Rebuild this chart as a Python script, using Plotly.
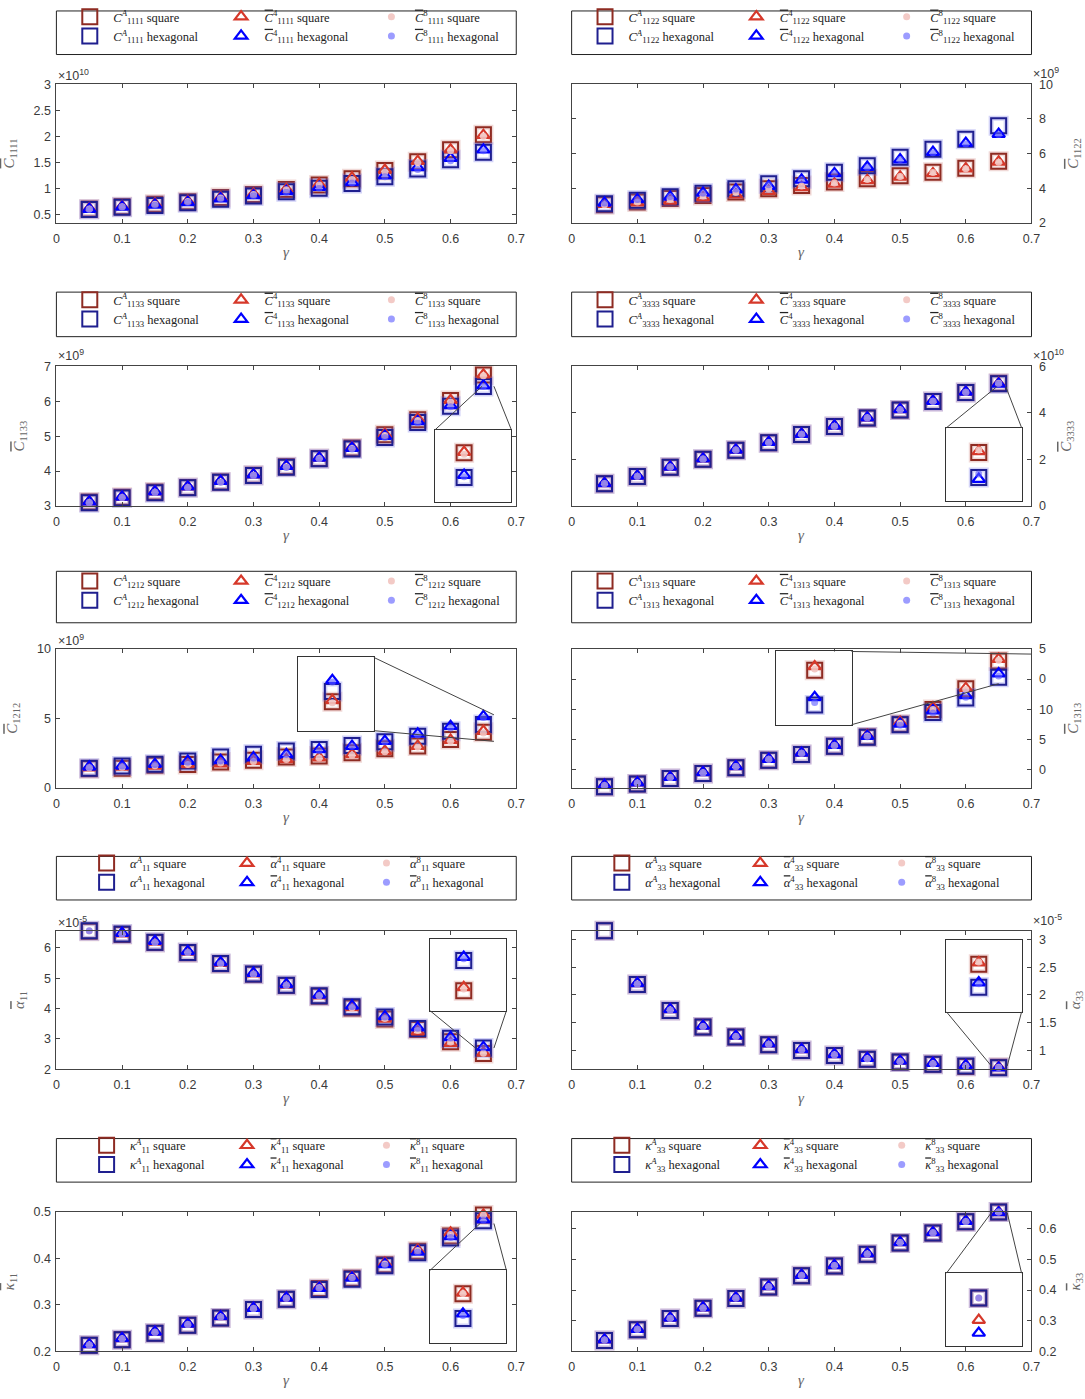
import plotly.graph_objects as go

W, H = 1085, 1399

# ---------------- data ----------------
gamma = [0.05, 0.10, 0.15, 0.20, 0.25, 0.30, 0.35, 0.40, 0.45, 0.50, 0.55, 0.60, 0.65]
x_tickvals = [0, 0.1, 0.2, 0.3, 0.4, 0.5, 0.6, 0.7]
x_ticktext = ["0", "0.1", "0.2", "0.3", "0.4", "0.5", "0.6", "0.7"]

# C1111 (x1e10)
c1111_A_sq = [0.60, 0.645, 0.69, 0.74, 0.82, 0.88, 0.975, 1.06, 1.18, 1.34, 1.51, 1.74, 2.03]
c1111_A_hex = [0.59, 0.635, 0.67, 0.72, 0.79, 0.85, 0.93, 1.00, 1.09, 1.22, 1.37, 1.55, 1.69]
c1111_4_sq = [0.61, 0.65, 0.70, 0.75, 0.82, 0.89, 0.98, 1.08, 1.20, 1.35, 1.52, 1.74, 2.02]
c1111_4_hex = [0.60, 0.64, 0.68, 0.73, 0.80, 0.86, 0.94, 1.02, 1.11, 1.24, 1.40, 1.58, 1.74]
c1111_8_sq = [0.60, 0.645, 0.69, 0.745, 0.81, 0.88, 0.97, 1.06, 1.17, 1.31, 1.49, 1.72, 2.00]
c1111_8_hex = [0.59, 0.635, 0.675, 0.725, 0.795, 0.855, 0.925, 1.00, 1.10, 1.22, 1.36, 1.53, 1.72]
c1111_ticks = [0.5, 1, 1.5, 2, 2.5, 3]
c1111_ticktext = ["0.5", "1", "1.5", "2", "2.5", "3"]

# C1122 (x1e9)
c1122_A_sq = [3.05, 3.20, 3.40, 3.58, 3.78, 3.97, 4.15, 4.35, 4.55, 4.72, 4.92, 5.15, 5.55]
c1122_A_hex = [3.10, 3.30, 3.50, 3.70, 3.97, 4.25, 4.55, 4.92, 5.30, 5.78, 6.25, 6.82, 7.60]
c1122_4_sq = [3.08, 3.17, 3.27, 3.45, 3.62, 3.83, 4.05, 4.25, 4.45, 4.65, 4.85, 5.13, 5.52]
c1122_4_hex = [3.15, 3.35, 3.50, 3.72, 3.92, 4.12, 4.48, 4.85, 5.22, 5.65, 6.08, 6.60, 7.12]
c1122_8_sq = [3.05, 3.20, 3.35, 3.55, 3.75, 3.95, 4.12, 4.30, 4.50, 4.68, 4.90, 5.12, 5.50]
c1122_8_hex = [3.15, 3.35, 3.52, 3.72, 3.95, 4.20, 4.50, 4.85, 5.20, 5.65, 6.05, 6.55, 7.10]
c1122_ticks = [2, 4, 6, 8, 10]
c1122_ticktext = ["2", "4", "6", "8", "10"]

# C1133 (x1e9)
c1133_A_sq = [3.11, 3.25, 3.40, 3.53, 3.69, 3.88, 4.12, 4.36, 4.66, 5.04, 5.47, 6.02, 6.75]
c1133_A_hex = [3.09, 3.23, 3.38, 3.52, 3.68, 3.87, 4.11, 4.35, 4.63, 4.96, 5.39, 5.86, 6.42]
c1133_4_sq = [3.12, 3.26, 3.41, 3.55, 3.71, 3.90, 4.14, 4.38, 4.68, 5.06, 5.50, 6.03, 6.76]
c1133_4_hex = [3.12, 3.26, 3.41, 3.55, 3.71, 3.90, 4.14, 4.38, 4.66, 5.00, 5.42, 5.88, 6.45]
c1133_8_sq = [3.10, 3.24, 3.39, 3.53, 3.69, 3.88, 4.12, 4.36, 4.65, 5.02, 5.45, 5.98, 6.73]
c1133_8_hex = [3.10, 3.24, 3.39, 3.53, 3.68, 3.87, 4.10, 4.35, 4.63, 4.96, 5.38, 5.84, 6.43]
c1133_ticks = [3, 4, 5, 6, 7]
c1133_ticktext = ["3", "4", "5", "6", "7"]

# C3333 (x1e10)
c3333_A_sq = [0.95, 1.27, 1.66, 2.01, 2.39, 2.72, 3.07, 3.42, 3.78, 4.13, 4.49, 4.88, 5.270]
c3333_A_hex = [0.95, 1.27, 1.66, 2.01, 2.39, 2.72, 3.07, 3.42, 3.78, 4.13, 4.49, 4.88, 5.250]
c3333_4_sq = [0.97, 1.29, 1.68, 2.03, 2.41, 2.74, 3.09, 3.44, 3.80, 4.15, 4.51, 4.90, 5.271]
c3333_4_hex = [0.97, 1.29, 1.68, 2.03, 2.41, 2.74, 3.09, 3.44, 3.80, 4.15, 4.51, 4.90, 5.2487]
c3333_8_sq = [0.96, 1.28, 1.67, 2.02, 2.40, 2.73, 3.08, 3.43, 3.79, 4.14, 4.50, 4.89, 5.272]
c3333_8_hex = [0.96, 1.28, 1.67, 2.02, 2.40, 2.73, 3.08, 3.43, 3.79, 4.14, 4.50, 4.89, 5.2527]
c3333_ticks = [0, 2, 4, 6]
c3333_ticktext = ["0", "2", "4", "6"]

# C1212 (x1e9)
c1212_A_sq = [1.38, 1.42, 1.64, 1.70, 1.87, 1.99, 2.23, 2.30, 2.54, 2.82, 3.01, 3.48, 4.00]
c1212_A_hex = [1.42, 1.59, 1.71, 1.94, 2.23, 2.42, 2.65, 2.77, 3.06, 3.32, 3.72, 4.08, 4.55]
c1212_4_sq = [1.47, 1.52, 1.59, 1.70, 1.75, 1.94, 2.06, 2.18, 2.42, 2.65, 3.01, 3.44, 4.08]
c1212_4_hex = [1.52, 1.59, 1.71, 1.94, 1.99, 2.18, 2.42, 2.77, 3.01, 3.37, 3.89, 4.43, 5.14]
c1212_8_sq = [1.45, 1.50, 1.60, 1.70, 1.80, 1.90, 2.05, 2.15, 2.35, 2.60, 2.95, 3.35, 3.95]
c1212_8_hex = [1.50, 1.58, 1.70, 1.85, 1.95, 2.15, 2.40, 2.70, 3.00, 3.30, 3.80, 4.30, 5.05]
c1212_ticks = [0, 5, 10]
c1212_ticktext = ["0", "5", "10"]

# C1313
c1313_A_sq = [-2.77, -2.34, -1.41, -0.60, 0.38, 1.58, 2.55, 3.91, 5.45, 7.55, 10.0, 13.4, 18.0]
c1313_A_hex = [-2.77, -2.34, -1.41, -0.60, 0.38, 1.58, 2.55, 3.91, 5.38, 7.45, 9.5, 11.9, 15.3]
c1313_4_sq = [-2.50, -2.10, -1.20, -0.40, 0.60, 1.80, 2.80, 4.10, 5.70, 7.90, 10.3, 13.5, 18.3]
c1313_4_hex = [-2.50, -2.10, -1.20, -0.40, 0.60, 1.80, 2.80, 4.10, 5.60, 7.60, 9.8, 12.3, 15.9]
c1313_8_sq = [-2.55, -2.15, -1.25, -0.45, 0.55, 1.75, 2.75, 4.05, 5.60, 7.70, 10.0, 13.3, 18.1]
c1313_8_hex = [-2.55, -2.15, -1.25, -0.45, 0.55, 1.75, 2.75, 4.05, 5.50, 7.40, 9.4, 12.0, 15.5]
c1313_ticks = [0, 5, 10, 15, 20]
c1313_ticktext = ["0", "5", "10", "0", "5"]

# alpha11 (x1e-5)
a11_A_sq = [6.55, 6.44, 6.18, 5.84, 5.48, 5.13, 4.76, 4.41, 4.02, 3.66, 3.31, 2.91, 2.52]
a11_A_hex = [6.57, 6.46, 6.19, 5.85, 5.49, 5.14, 4.77, 4.42, 4.06, 3.72, 3.34, 3.02, 2.70]
a11_4_sq = [6.58, 6.47, 6.20, 5.87, 5.50, 5.15, 4.78, 4.43, 4.04, 3.66, 3.24, 2.86, 2.54]
a11_4_hex = [6.60, 6.49, 6.22, 5.89, 5.52, 5.17, 4.80, 4.45, 4.09, 3.74, 3.37, 3.05, 2.72]
a11_8_sq = [6.56, 6.45, 6.18, 5.85, 5.48, 5.13, 4.77, 4.42, 4.03, 3.67, 3.28, 2.90, 2.53]
a11_8_hex = [6.57, 6.46, 6.19, 5.86, 5.50, 5.15, 4.78, 4.43, 4.07, 3.72, 3.35, 3.03, 2.71]
a11_ticks = [2, 3, 4, 5, 6]
a11_ticktext = ["2", "3", "4", "5", "6"]

# alpha33 (x1e-5)
a33_A_sq = [3.16, 2.19, 1.72, 1.42, 1.24, 1.10, 1.00, 0.91, 0.84, 0.79, 0.75, 0.71, 0.695]
a33_A_hex = [3.16, 2.19, 1.72, 1.42, 1.24, 1.10, 1.00, 0.91, 0.84, 0.79, 0.75, 0.72, 0.685]
a33_4_sq = [3.18, 2.21, 1.74, 1.44, 1.26, 1.12, 1.02, 0.93, 0.86, 0.81, 0.77, 0.73, 0.6957]
a33_4_hex = [3.18, 2.21, 1.74, 1.44, 1.26, 1.12, 1.02, 0.93, 0.86, 0.81, 0.77, 0.73, 0.6870]
a33_8_sq = [3.17, 2.20, 1.73, 1.43, 1.25, 1.11, 1.01, 0.92, 0.85, 0.80, 0.76, 0.72, 0.6960]
a33_8_hex = [3.17, 2.20, 1.73, 1.43, 1.25, 1.11, 1.01, 0.92, 0.85, 0.80, 0.76, 0.72, 0.6865]
a33_ticks = [1, 1.5, 2, 2.5, 3]
a33_ticktext = ["1", "1.5", "2", "2.5", "3"]

# kappa11
k11_A_sq = [0.213, 0.225, 0.239, 0.256, 0.272, 0.290, 0.312, 0.335, 0.357, 0.386, 0.415, 0.448, 0.493]
k11_A_hex = [0.213, 0.225, 0.239, 0.256, 0.272, 0.290, 0.312, 0.333, 0.355, 0.384, 0.412, 0.444, 0.481]
k11_4_sq = [0.215, 0.228, 0.242, 0.259, 0.275, 0.293, 0.315, 0.338, 0.360, 0.390, 0.418, 0.455, 0.4935]
k11_4_hex = [0.215, 0.228, 0.242, 0.259, 0.275, 0.293, 0.315, 0.336, 0.358, 0.387, 0.414, 0.447, 0.4833]
k11_8_sq = [0.214, 0.227, 0.241, 0.258, 0.274, 0.292, 0.314, 0.337, 0.359, 0.388, 0.417, 0.451, 0.4932]
k11_8_hex = [0.214, 0.227, 0.241, 0.258, 0.274, 0.292, 0.314, 0.335, 0.357, 0.385, 0.413, 0.445, 0.4825]
k11_ticks = [0.2, 0.3, 0.4, 0.5]
k11_ticktext = ["0.2", "0.3", "0.4", "0.5"]

# kappa33
k33_A_sq = [0.236, 0.271, 0.307, 0.341, 0.373, 0.410, 0.447, 0.479, 0.517, 0.554, 0.586, 0.623, 0.6552]
k33_A_hex = [0.236, 0.271, 0.307, 0.341, 0.373, 0.410, 0.447, 0.479, 0.517, 0.554, 0.586, 0.623, 0.6552]
k33_4_sq = [0.238, 0.273, 0.309, 0.343, 0.375, 0.412, 0.449, 0.481, 0.519, 0.556, 0.588, 0.625, 0.6540]
k33_4_hex = [0.238, 0.273, 0.309, 0.343, 0.375, 0.412, 0.449, 0.481, 0.519, 0.556, 0.588, 0.625, 0.6533]
k33_8_sq = [0.237, 0.272, 0.308, 0.342, 0.374, 0.411, 0.448, 0.480, 0.518, 0.555, 0.587, 0.624, 0.6552]
k33_8_hex = [0.237, 0.272, 0.308, 0.342, 0.374, 0.411, 0.448, 0.480, 0.518, 0.555, 0.587, 0.624, 0.6552]
k33_ticks = [0.2, 0.3, 0.4, 0.5, 0.6]
k33_ticktext = ["0.2", "0.3", "0.4", "0.5", "0.6"]

# ---------------- style ----------------
BROWN = "#8e2b22"
NAVY = "#1f1f8f"
RED = "#d6382a"
BLUE = "#0000ff"
PINK = "rgba(242,196,192,0.9)"
LBLUE = "rgba(90,90,255,0.6)"
HALO_BR = "rgba(200,120,110,0.28)"
HALO_NV = "rgba(110,110,230,0.30)"
AX = "#444444"
TXT = "#3a3a3a"
TITLE_C = "#666666"
SERIF = "Liberation Serif"
SANS = "Liberation Sans"
SQ = 15
TRI = 11
DOT = 7


def ol(b):
    return '<span style="text-decoration:overline;font-style:italic">' + b + '</span>'


def labels(b, s):
    return [
        "<i>" + b + "</i><sup><i>A</i></sup><sub>" + s + "</sub> square",
        "<i>" + b + "</i><sup><i>A</i></sup><sub>" + s + "</sub> hexagonal",
        ol(b) + "<sup>4</sup><sub>" + s + "</sub> square",
        ol(b) + "<sup>4</sup><sub>" + s + "</sub> hexagonal",
        ol(b) + "<sup>8</sup><sub>" + s + "</sub> square",
        ol(b) + "<sup>8</sup><sub>" + s + "</sub> hexagonal",
    ]


COLS = [(54, 519), (575, 1040)]
ROWS = [(78, 218), (363, 504), (648, 789), (933, 1073), (1217, 1358)]
LEG_BOX = [(4, 48), (288, 333), (570, 622), (858, 902), (1143, 1187)]
LEG_ROW1 = [16, 302, 586, 871, 1156]
LEG_SYM = {
    (0, 0): [88, 241, 393], (0, 1): [609, 762, 914],
    (1, 0): [105, 247, 388], (1, 1): [626, 766, 909],
}


def px_x(p):
    return p / W


def px_y(p):
    return 1 - p / H


panels = [
    dict(b="C", s="1111", data=(c1111_A_sq, c1111_A_hex, c1111_4_sq, c1111_4_hex, c1111_8_sq, c1111_8_hex),
         rng=[0.335, 3.0], tv=c1111_ticks, tt=c1111_ticktext, exp="×10<sup>10</sup>", exp_y=69, inset=None),
    dict(b="C", s="1122", data=(c1122_A_sq, c1122_A_hex, c1122_4_sq, c1122_4_hex, c1122_8_sq, c1122_8_hex),
         rng=[2, 10], tv=c1122_ticks, tt=c1122_ticktext, exp="×10<sup>9</sup>", exp_y=67, inset=None),
    dict(b="C", s="1133", data=(c1133_A_sq, c1133_A_hex, c1133_4_sq, c1133_4_hex, c1133_8_sq, c1133_8_hex),
         rng=[3, 7], tv=c1133_ticks, tt=c1133_ticktext, exp="×10<sup>9</sup>", exp_y=352,
         inset=dict(box=(437, 427, 514, 500), f=0.38, yr=[6.09, 7.06], src=(0.648, 0.666, 6.43, 6.9),
                    links=[("tl", "bl"), ("tr", "br")])),
    dict(b="C", s="3333", data=(c3333_A_sq, c3333_A_hex, c3333_4_sq, c3333_4_hex, c3333_8_sq, c3333_8_hex),
         rng=[0, 6], tv=c3333_ticks, tt=c3333_ticktext, exp="×10<sup>10</sup>", exp_y=352,
         inset=dict(box=(954, 425, 1030, 499), f=0.43, yr=[5.231, 5.29], src=(0.647, 0.661, 5.12, 5.4),
                    links=[("tl", "bl"), ("tr", "br")])),
    dict(b="C", s="1212", data=(c1212_A_sq, c1212_A_hex, c1212_4_sq, c1212_4_hex, c1212_8_sq, c1212_8_hex),
         rng=[0, 10], tv=c1212_ticks, tt=c1212_ticktext, exp="×10<sup>9</sup>", exp_y=639,
         inset=dict(box=(298, 657, 375, 731), f=0.455, yr=[2.47, 6.35], src=(0.64, 0.666, 3.35, 5.25),
                    links=[("tr", "tr"), ("br", "br")])),
    dict(b="C", s="1313", data=(c1313_A_sq, c1313_A_hex, c1313_4_sq, c1313_4_hex, c1313_8_sq, c1313_8_hex),
         rng=[-3, 20.05], tv=c1313_ticks, tt=c1313_ticktext, exp=None, exp_y=0,
         inset=dict(box=(782, 651, 858, 725), f=0.51, yr=[13.76, 19.47], src=(0.65, 0.70, 14.24, 19.13),
                    links=[("tr", "tr"), ("br", "bl")])),
    dict(b="α", s="11", data=(a11_A_sq, a11_A_hex, a11_4_sq, a11_4_hex, a11_8_sq, a11_8_hex),
         rng=[2, 6.57], tv=a11_ticks, tt=a11_ticktext, exp="×10<sup>-5</sup>", exp_y=924,
         inset=dict(box=(432, 941, 509, 1014), f=0.44, yr=[2.40, 2.83], src=(0.638, 0.666, 2.4, 2.7),
                    links=[("bl", "tl"), ("br", "tr")])),
    dict(b="α", s="33", data=(a33_A_sq, a33_A_hex, a33_4_sq, a33_4_hex, a33_8_sq, a33_8_hex),
         rng=[0.66, 3.16], tv=a33_ticks, tt=a33_ticktext, exp="×10<sup>-5</sup>", exp_y=922,
         inset=dict(box=(954, 942, 1030, 1015), f=0.43, yr=[0.6743, 0.7057], src=(0.639, 0.663, 0.66, 0.718),
                    links=[("bl", "tl"), ("br", "tr")])),
    dict(b="κ", s="11", data=(k11_A_sq, k11_A_hex, k11_4_sq, k11_4_hex, k11_8_sq, k11_8_hex),
         rng=[0.2, 0.5], tv=k11_ticks, tt=k11_ticktext, exp=None, exp_y=0,
         inset=dict(box=(432, 1276, 509, 1349), f=0.43, yr=[0.4693, 0.5045], src=(0.645, 0.666, 0.475, 0.5),
                    links=[("tl", "bl"), ("tr", "br")])),
    dict(b="κ", s="33", data=(k33_A_sq, k33_A_hex, k33_4_sq, k33_4_hex, k33_8_sq, k33_8_hex),
         rng=[0.2, 0.6555], tv=k33_ticks, tt=k33_ticktext, exp=None, exp_y=0,
         inset=dict(box=(954, 1279, 1030, 1353), f=0.43, yr=[0.65257, 0.65654], src=(0.639, 0.663, 0.653, 0.656),
                    links=[("tl", "bl"), ("tr", "br")])),
]

fig = go.Figure()
layout = {}
shapes = []
annotations = []

XR = [0, 0.7]


def add_series(xa, ya, data, labs, legs, clip, show):
    common = dict(x=gamma, mode="markers", xaxis=xa, yaxis=ya, cliponaxis=clip, hoverinfo="skip")
    fig.add_trace(go.Scatter(y=data[0], showlegend=False,
                             marker=dict(symbol="square", size=SQ, color="rgba(0,0,0,0)",
                                         line=dict(color=HALO_BR, width=5)), **common))
    fig.add_trace(go.Scatter(y=data[0], name=labs[0], legend=legs[0], showlegend=show,
                             marker=dict(symbol="square", size=SQ, color="rgba(0,0,0,0)",
                                         line=dict(color=BROWN, width=2)), **common))
    fig.add_trace(go.Scatter(y=data[1], showlegend=False,
                             marker=dict(symbol="square", size=SQ, color="rgba(0,0,0,0)",
                                         line=dict(color=HALO_NV, width=5)), **common))
    fig.add_trace(go.Scatter(y=data[1], name=labs[1], legend=legs[0], showlegend=show,
                             marker=dict(symbol="square", size=SQ, color="rgba(0,0,0,0)",
                                         line=dict(color=NAVY, width=2)), **common))
    fig.add_trace(go.Scatter(y=data[2], name=labs[2], legend=legs[1], showlegend=show,
                             marker=dict(symbol="triangle-up", size=TRI, color="rgba(0,0,0,0)",
                                         line=dict(color=RED, width=2.2)), **common))
    fig.add_trace(go.Scatter(y=data[3], name=labs[3], legend=legs[1], showlegend=show,
                             marker=dict(symbol="triangle-up", size=TRI, color="rgba(0,0,0,0)",
                                         line=dict(color=BLUE, width=2.2)), **common))
    fig.add_trace(go.Scatter(y=data[4], name=labs[4], legend=legs[2], showlegend=show,
                             marker=dict(symbol="circle", size=DOT, color=PINK, line=dict(width=0)), **common))
    fig.add_trace(go.Scatter(y=data[5], name=labs[5], legend=legs[2], showlegend=show,
                             marker=dict(symbol="circle", size=DOT, color=LBLUE, line=dict(width=0)), **common))


def legname(k):
    return "legend" if k == 1 else "legend%d" % k


inset_id = 10
for i, p in enumerate(panels):
    n = i + 1
    row, col = i // 2, i % 2
    xa = "x" if n == 1 else "x%d" % n
    ya = "y" if n == 1 else "y%d" % n
    xkey = "xaxis" if n == 1 else "xaxis%d" % n
    ykey = "yaxis" if n == 1 else "yaxis%d" % n
    cx0, cx1 = COLS[col]
    ry0, ry1 = ROWS[row]
    xdom = [px_x(cx0), px_x(cx1)]
    ydom = [px_y(ry1), px_y(ry0)]
    labs = labels(p["b"], p["s"])
    legs = [legname(3 * i + 1), legname(3 * i + 2), legname(3 * i + 3)]

    add_series(xa, ya, p["data"], labs, legs, False, True)

    axcommon = dict(showline=True, linecolor=AX, linewidth=1, mirror="ticks", ticks="inside",
                    ticklen=4, tickcolor=AX, tickwidth=1, showgrid=False, zeroline=False,
                    tickfont=dict(family=SANS, size=12.5, color=TXT))
    layout[xkey] = dict(domain=xdom, anchor=ya, range=XR, tickmode="array", tickvals=x_tickvals,
                        ticktext=x_ticktext, ticklabelstandoff=4, **axcommon)
    layout[ykey] = dict(domain=ydom, anchor=xa, range=p["rng"], tickmode="array", tickvals=p["tv"],
                        ticktext=p["tt"], side="left" if col == 0 else "right",
                        ticklabelstandoff=2 if col == 0 else 4,
                        title=dict(text=ol(p["b"]) + "<sub>" + p["s"] + "</sub>",
                                   font=dict(family=SERIF, size=15, color=TITLE_C)), **axcommon)

    # x-axis title
    annotations.append(dict(text="<i>γ</i>", xref="paper", yref="paper", x=px_x((cx0 + cx1) / 2),
                            y=px_y(ry1 + 29), xanchor="center", yanchor="middle", showarrow=False,
                            font=dict(family=SERIF, size=15, color=TITLE_C)))

    # legend box
    lb0, lb1 = LEG_BOX[row]
    shapes.append(dict(type="rect", xref="paper", yref="paper", x0=px_x(cx0), x1=px_x(cx1),
                       y0=px_y(lb1), y1=px_y(lb0), line=dict(color="#222222", width=1)))
    syms = LEG_SYM[(0 if row < 3 else 1, col)]
    for j in range(3):
        layout[legs[j]] = dict(x=px_x(syms[j] - 24), y=px_y(LEG_ROW1[row] - 21), xanchor="left", yanchor="top",
                               orientation="v", bgcolor="rgba(0,0,0,0)", borderwidth=0,
                               font=dict(family=SERIF, size=12.5, color="#222222"), itemwidth=37,
                               tracegroupgap=0, itemclick=False, itemdoubleclick=False, itemsizing="trace")

    # exponent label
    if p["exp"]:
        annotations.append(dict(text=p["exp"], xref="paper", yref="paper",
                                x=px_x(cx0 if col == 0 else cx1), y=px_y(p["exp_y"]),
                                xanchor="left", yanchor="middle", showarrow=False,
                                font=dict(family=SANS, size=12.5, color=TXT)))

    # inset
    ins = p["inset"]
    if ins:
        inset_id += 1
        m = inset_id
        bx0, by0, bx1, by1 = ins["box"]
        w = 0.02
        ixr = [0.65 - ins["f"] * w, 0.65 + (1 - ins["f"]) * w]
        add_series("x%d" % m, "y%d" % m, p["data"], labs, legs, True, False)
        icommon = dict(showline=True, linecolor="#333333", linewidth=1, mirror=True, ticks="",
                       showticklabels=False, showgrid=False, zeroline=False)
        layout["xaxis%d" % m] = dict(domain=[px_x(bx0), px_x(bx1)], anchor="y%d" % m, range=ixr, **icommon)
        layout["yaxis%d" % m] = dict(domain=[px_y(by1), px_y(by0)], anchor="x%d" % m, range=ins["yr"], **icommon)

        def main_pt(gx, gy):
            px = xdom[0] + (gx - XR[0]) / (XR[1] - XR[0]) * (xdom[1] - xdom[0])
            py = ydom[0] + (gy - p["rng"][0]) / (p["rng"][1] - p["rng"][0]) * (ydom[1] - ydom[0])
            return px, py

        icorn = {"tl": (px_x(bx0), px_y(by0)), "tr": (px_x(bx1), px_y(by0)),
                 "bl": (px_x(bx0), px_y(by1)), "br": (px_x(bx1), px_y(by1))}
        sx0, sx1, sy0, sy1 = ins["src"]
        scorn = {"tl": main_pt(sx0, sy1), "tr": main_pt(sx1, sy1),
                 "bl": main_pt(sx0, sy0), "br": main_pt(sx1, sy0)}
        for a, b in ins["links"]:
            (x0, y0), (x1, y1) = icorn[a], scorn[b]
            shapes.append(dict(type="line", xref="paper", yref="paper", x0=x0, y0=y0, x1=x1, y1=y1,
                               line=dict(color="#444444", width=1)))

fig.update_layout(**layout)
fig.update_layout(width=W, height=H, autosize=False, margin=dict(l=0, r=0, t=0, b=0),
                  paper_bgcolor="white", plot_bgcolor="white", showlegend=True,
                  shapes=shapes, annotations=annotations, font=dict(family=SANS, color=TXT))
fig.write_html("out.html", config={"displayModeBar": False},
               post_script="document.body.style.margin='0px';document.body.style.overflow='hidden';")
